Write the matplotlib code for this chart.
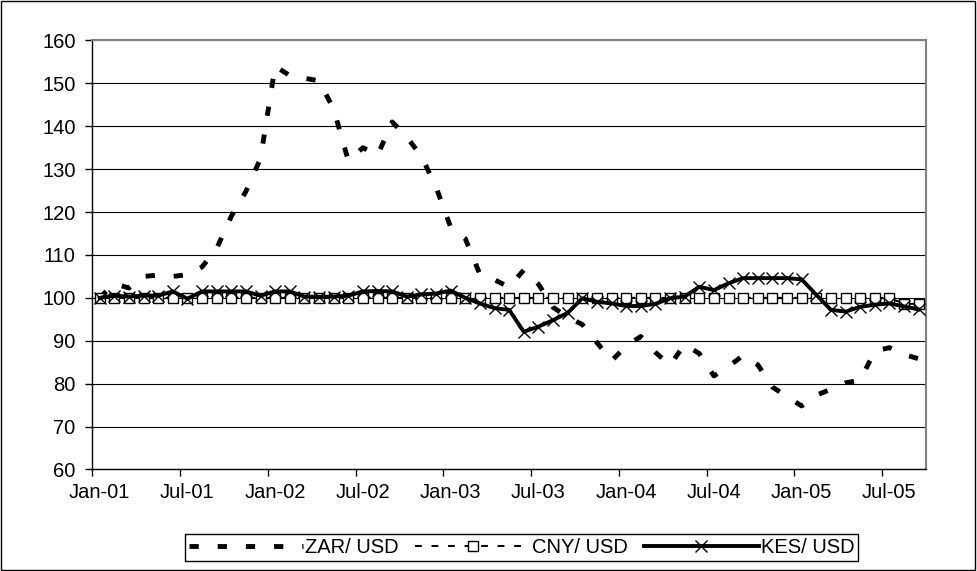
import numpy as np
import pandas as pd
import matplotlib
matplotlib.use('Agg')
import matplotlib.pyplot as plt
from matplotlib.patches import Rectangle

# monthly index, Jan 2001 = 100
months = list(pd.date_range('2001-01-01', periods=57, freq='MS').strftime('%b-%y'))

zar = [100.0, 103.3, 102.3, 105.0, 105.3, 105.0, 105.4, 107.2, 111.5, 119.0,
       124.8, 132.5, 154.0, 151.8, 151.2, 150.6, 144.0, 132.0, 135.0, 133.2,
       141.0, 137.5, 133.0, 125.8, 116.5, 113.8, 105.5, 104.2, 102.5, 106.5,
       103.2, 97.8, 95.5, 93.8, 89.6, 85.3, 88.8, 91.0, 87.3, 84.3,
       89.2, 87.0, 81.8, 84.0, 86.6, 84.4, 79.2, 77.0, 74.8, 77.3,
       78.7, 80.2, 80.8, 87.6, 88.4, 86.8, 85.8]

cny = [100.0] * 55 + [98.6, 98.6]

kes = [100.0, 100.5, 100.3, 100.5, 100.5, 101.5, 99.8, 101.5, 101.5, 101.5,
       101.5, 100.5, 101.5, 101.5, 100.3, 100.2, 100.3, 100.5, 101.5, 101.6,
       101.5, 100.3, 100.8, 101.0, 101.7, 100.0, 98.7, 97.6, 97.2, 92.1,
       93.3, 94.8, 96.5, 99.9, 99.1, 98.7, 98.1, 98.1, 98.6, 99.9,
       100.3, 102.6, 101.8, 103.4, 104.6, 104.6, 104.6, 104.6, 104.3, 100.7,
       97.2, 96.8, 97.9, 98.4, 98.7, 98.0, 97.3]

tickLabels = ['Jan-01', 'Jul-01', 'Jan-02', 'Jul-02', 'Jan-03',
              'Jul-03', 'Jan-04', 'Jul-04', 'Jan-05', 'Jul-05']

FONT = ['Liberation Sans', 'DejaVu Sans']
plt.rcParams['font.family'] = FONT
plt.rcParams['font.size'] = 14.5

fig = plt.figure(figsize=(9.77, 5.71), dpi=100)
ax = fig.add_axes([0.0945, 0.1778, 0.8533, 0.7514])

x = np.arange(len(months)) + 0.5

ax.plot(x, zar, color='black', lw=3.5, dashes=(1.9, 3.9), label='ZAR/ USD', zorder=3)
ax.plot(x, cny, color='black', lw=1.4, dashes=(3.5, 5), marker='s', markersize=6.5,
        markerfacecolor='white', markeredgecolor='black', markeredgewidth=1,
        label='CNY/ USD', zorder=4)
ax.plot(x, kes, color='black', lw=2.8, marker='x', markersize=8, markeredgewidth=1,
        label='KES/ USD', zorder=5)

ax.set_xlim(0, len(months))
ax.set_ylim(60, 160)
ax.set_yticks(np.arange(60, 161, 10))
ax.yaxis.grid(True, color='black', lw=0.8)
ax.set_axisbelow(True)

tickPos = np.arange(0, len(months), 6)
ax.set_xticks(tickPos)
ax.set_xticklabels([])
ax.set_xticks(tickPos + 0.5, minor=True)
ax.set_xticklabels(tickLabels, minor=True)
ax.tick_params(axis='x', which='major', direction='out', length=5, width=1)
ax.tick_params(axis='x', which='minor', length=0, pad=10)
ax.tick_params(axis='y', direction='out', length=5, width=1, pad=7)

for side in ['left', 'bottom']:
    ax.spines[side].set_color('black')
    ax.spines[side].set_linewidth(1)
for side in ['top', 'right']:
    ax.spines[side].set_color('#808080')
    ax.spines[side].set_linewidth(1.5)

leg = fig.legend(loc='center', bbox_to_anchor=(0.5338, 0.0412), ncol=3,
                 fancybox=False, edgecolor='black', framealpha=1,
                 handlelength=5.7, handletextpad=0.1, columnspacing=0.8,
                 borderpad=0.2, numpoints=1, fontsize=14.5)
leg.get_frame().set_linewidth(1)

fig.patches.append(Rectangle((0.001, 0.002), 0.997, 0.996, transform=fig.transFigure,
                             fill=False, edgecolor='black', lw=1))

plt.savefig('out.png', dpi=100)
plt.close('all')
